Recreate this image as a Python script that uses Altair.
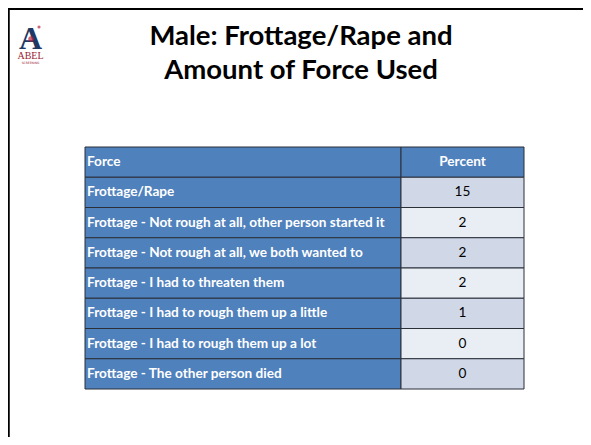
import altair as alt
import pandas as pd

# ---- data ----
header = ["Force", "Percent"]
labels = [
    "Frottage/Rape",
    "Frottage - Not rough at all, other person started it",
    "Frottage - Not rough at all, we both wanted to",
    "Frottage - I had to threaten them",
    "Frottage - I had to rough them up a little",
    "Frottage - I had to rough them up a lot",
    "Frottage - The other person died",
]
percents = [15, 2, 2, 2, 1, 0, 0]
title_lines = ["Male: Frottage/Rape and", "Amount of Force Used"]

# ---- layout (chart pixel coordinates) ----
W, H = 575, 429
COL_L0, COL_SPLIT, COL_R1 = 77, 393, 516
TOP, BOTTOM = 139, 381
BLUE = "#4F81BD"
LIGHT1 = "#D0D8E8"
LIGHT2 = "#E9EDF4"
BORDER = "#2A2F38"
FONT = "Lato"
CELL_FS = 13.6

rows = []
rows.append(dict(row=0, x0=COL_L0, x1=COL_SPLIT, fill=BLUE, text=header[0],
                 tx=COL_L0 + 2, align="left", color="white", weight="bold"))
rows.append(dict(row=0, x0=COL_SPLIT, x1=COL_R1, fill=BLUE, text=header[1],
                 tx=(COL_SPLIT + COL_R1) / 2, align="center", color="white", weight="bold"))
for i, (lab, p) in enumerate(zip(labels, percents), start=1):
    rows.append(dict(row=i, x0=COL_L0, x1=COL_SPLIT, fill=BLUE, text=lab,
                     tx=COL_L0 + 2, align="left", color="white", weight="bold"))
    rows.append(dict(row=i, x0=COL_SPLIT, x1=COL_R1,
                     fill=LIGHT1 if i % 2 == 1 else LIGHT2, text=str(p),
                     tx=(COL_SPLIT + COL_R1) / 2, align="center", color="black", weight="normal"))
df = pd.DataFrame(rows)
df["row1"] = df["row"] + 1
df["rowmid"] = df["row"] + 0.5

xs = alt.Scale(domain=[0, W], range=[0, W])
ys = alt.Scale(domain=[0, 8], range=[TOP, BOTTOM])

cells = alt.Chart(df).mark_rect(stroke=BORDER, strokeWidth=1).encode(
    x=alt.X("x0:Q", scale=xs, axis=None),
    x2="x1:Q",
    y=alt.Y("row:Q", scale=ys, axis=None),
    y2="row1:Q",
    fill=alt.Fill("fill:N", scale=None),
)

def cell_text(align, weight):
    sub = df[(df["align"] == align) & (df["weight"] == weight)]
    return alt.Chart(sub).mark_text(
        font=FONT, fontSize=CELL_FS, fontWeight=weight, align=align, baseline="middle"
    ).encode(
        x=alt.X("tx:Q", scale=xs, axis=None),
        y=alt.Y("rowmid:Q", scale=ys, axis=None),
        text="text:N",
        color=alt.Color("color:N", scale=None),
    )

texts = [cell_text("left", "bold"), cell_text("center", "bold"), cell_text("center", "normal")]

def title_line(txt, yy):
    return alt.Chart(pd.DataFrame({"t": [txt]})).mark_text(
        font=FONT, fontSize=27.5, fontWeight="bold", align="center", baseline="alphabetic", color="black"
    ).encode(x=alt.value(293), y=alt.value(yy), text="t:N")

titles = [title_line(title_lines[0], 36.5), title_line(title_lines[1], 71)]

frame_top = alt.Chart(pd.DataFrame({"a": [0]})).mark_rule(color="black", strokeWidth=3).encode(
    x=alt.value(0), x2=alt.value(W), y=alt.value(0.5)
)
frame_left = alt.Chart(pd.DataFrame({"a": [0]})).mark_rule(color="black", strokeWidth=2.5).encode(
    x=alt.value(0.5), y=alt.value(0), y2=alt.value(H)
)

# logo
logo_A = alt.Chart(pd.DataFrame({"t": ["A"]})).mark_text(
    font="Liberation Serif", fontSize=32, fontWeight="bold", color="#1F3864", align="center", baseline="alphabetic"
).encode(x=alt.value(22.5), y=alt.value(41), text="t:N")
logo_dot = alt.Chart(pd.DataFrame({"a": [0]})).mark_point(filled=True, color="#B5253F", size=10).encode(
    x=alt.value(31), y=alt.value(19)
)
logo_fig = alt.Chart(pd.DataFrame({"a": [0]})).mark_point(filled=True, color="#B5253F", size=30, shape="circle").encode(
    x=alt.value(23), y=alt.value(31)
)
logo_abel = alt.Chart(pd.DataFrame({"t": ["ABEL"]})).mark_text(
    font="Liberation Serif", fontSize=10, color="#9B1B30", align="center", baseline="alphabetic"
).encode(x=alt.value(22.5), y=alt.value(51), text="t:N")
logo_scr = alt.Chart(pd.DataFrame({"t": ["SCREENING"]})).mark_text(
    font="DejaVu Sans", fontSize=3, color="#9B1B30", align="center", baseline="alphabetic"
).encode(x=alt.value(22.5), y=alt.value(56), text="t:N")

chart = alt.layer(
    cells, *texts, *titles, frame_top, frame_left, logo_A, logo_fig, logo_dot, logo_abel, logo_scr
).properties(
    width=W, height=H, padding=0, autosize=alt.AutoSizeParams(type="none"), background="white"
).configure_view(stroke=None)

chart.save("out.html", embed_options={"renderer": "svg", "actions": False})
